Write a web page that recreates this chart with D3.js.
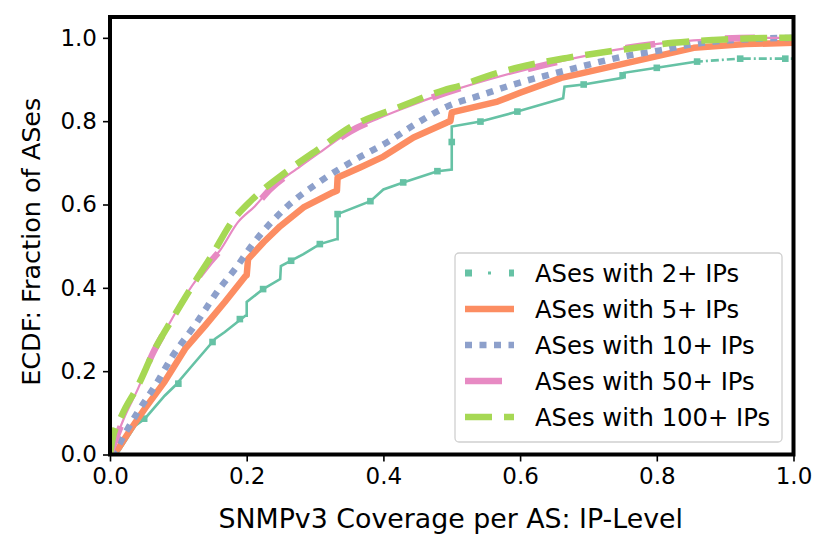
<!DOCTYPE html>
<html><head><meta charset="utf-8">
<script src="https://cdn.jsdelivr.net/npm/d3@7"></script>
<style>
body{margin:0;background:#fff}
svg{display:block}
text{font-family:"DejaVu Sans",sans-serif;fill:#000}
</style>
</head><body>
<svg id="chart" width="831" height="548"></svg>
<script>
// ---- data ----
const seriesLabels = ["ASes with 2+ IPs","ASes with 5+ IPs","ASes with 10+ IPs","ASes with 50+ IPs","ASes with 100+ IPs"];
const seriesColors = ["#66c2a5","#fc8d62","#8da0cb","#e78ac3","#a6d854"];
const xTicks = [0,0.2,0.4,0.6,0.8,1.0];
const yTicks = [0,0.2,0.4,0.6,0.8,1.0];
const xLabel = "SNMPv3 Coverage per AS: IP-Level";
const yLabel = "ECDF: Fraction of ASes";

const ips2 = [[0,0],[0.01,0],[0.037,0.069],[0.051,0.086],[0.08,0.141],[0.095,0.165],[0.12,0.213],[0.154,0.278],[0.168,0.294],[0.198,0.333],[0.2,0.333],[0.2,0.366],[0.224,0.397],[0.249,0.421],[0.25,0.452],[0.283,0.481],[0.307,0.505],[0.332,0.517],[0.333,0.517],[0.333,0.577],[0.381,0.608],[0.4,0.636],[0.429,0.653],[0.479,0.68],[0.5,0.684],[0.5,0.787],[0.542,0.799],[0.596,0.823],[0.663,0.855],[0.665,0.883],[0.693,0.888],[0.75,0.904],[0.752,0.916],[0.8,0.928],[0.859,0.943],[0.922,0.95],[1.0,0.95]];
const ips2Markers = [[0.05,0.086],[0.1,0.17],[0.15,0.27],[0.19,0.325],[0.224,0.397],[0.265,0.465],[0.307,0.505],[0.333,0.577],[0.381,0.608],[0.429,0.653],[0.479,0.68],[0.5,0.75],[0.542,0.799],[0.596,0.823],[0.693,0.888],[0.75,0.91],[0.8,0.928],[0.859,0.943],[0.922,0.95],[0.988,0.95]];
const ips5 = [[0,0],[0.012,0.014],[0.03,0.06],[0.051,0.11],[0.08,0.175],[0.11,0.254],[0.139,0.309],[0.168,0.366],[0.198,0.428],[0.2,0.43],[0.202,0.469],[0.225,0.51],[0.249,0.548],[0.283,0.593],[0.326,0.629],[0.332,0.633],[0.333,0.665],[0.366,0.689],[0.4,0.715],[0.444,0.761],[0.493,0.797],[0.498,0.8],[0.5,0.821],[0.567,0.847],[0.6,0.868],[0.66,0.904],[0.688,0.914],[0.757,0.94],[0.854,0.976],[0.93,0.985],[1.0,0.988]];
const ips10 = [[0,0],[0.008,0.01],[0.02,0.045],[0.041,0.103],[0.066,0.165],[0.091,0.235],[0.124,0.31],[0.161,0.4],[0.183,0.445],[0.209,0.505],[0.259,0.595],[0.307,0.655],[0.356,0.705],[0.405,0.749],[0.444,0.79],[0.493,0.835],[0.542,0.862],[0.59,0.888],[0.663,0.92],[0.757,0.957],[0.805,0.97],[0.854,0.985],[0.95,0.998],[1.0,1.0]];
const ips50 = [[0,0],[0.007,0.031],[0.022,0.093],[0.041,0.158],[0.061,0.237],[0.085,0.309],[0.114,0.39],[0.143,0.455],[0.161,0.49],[0.187,0.557],[0.212,0.596],[0.234,0.636],[0.278,0.691],[0.307,0.725],[0.351,0.775],[0.395,0.808],[0.425,0.828],[0.493,0.869],[0.59,0.916],[0.649,0.94],[0.757,0.976],[0.854,0.994],[0.95,1.0],[1.0,1.0]];
const ips100 = [[0,0],[0.003,0.031],[0.017,0.093],[0.041,0.165],[0.066,0.254],[0.091,0.325],[0.124,0.414],[0.149,0.478],[0.179,0.56],[0.208,0.612],[0.259,0.68],[0.307,0.735],[0.351,0.785],[0.425,0.835],[0.488,0.874],[0.512,0.885],[0.559,0.912],[0.608,0.933],[0.669,0.952],[0.769,0.976],[0.824,0.988],[0.883,0.995],[0.985,1.0],[1.0,1.0]];

// ---- layout ----
const svg = d3.select("#chart");
const L = 110, R = 793.5, T = 17, B = 454.5;
const x = d3.scaleLinear().domain([0,1]).range([L,R]);
const y = d3.scaleLinear().domain([0,1.05]).range([B,T]);
const line = d3.line().x(d=>x(d[0])).y(d=>y(d[1]));
const smooth = d3.line().x(d=>x(d[0])).y(d=>y(d[1])).curve(d3.curveMonotoneX);

const defs = svg.append("defs");
defs.append("clipPath").attr("id","plot").append("rect").attr("x",L).attr("y",T).attr("width",R-L).attr("height",B-T);
defs.append("clipPath").attr("id","head").append("rect").attr("x",L).attr("y",T).attr("width",x(0.86)-L).attr("height",B-T);
defs.append("clipPath").attr("id","tail").append("rect").attr("x",x(0.86)).attr("y",T).attr("width",R-x(0.86)).attr("height",B-T);

const g = svg.append("g").attr("clip-path","url(#plot)");

// 2+ IPs
g.append("path").datum(ips2).attr("d",line).attr("clip-path","url(#head)")
  .attr("fill","none").attr("stroke",seriesColors[0]).attr("stroke-width",2.6);
g.append("path").datum(ips2).attr("d",line).attr("clip-path","url(#tail)")
  .attr("fill","none").attr("stroke",seriesColors[0]).attr("stroke-width",2.6).attr("stroke-dasharray","8,3,2,3");
g.selectAll("rect.m2").data(ips2Markers).join("rect").attr("class","m2")
  .attr("x",d=>x(d[0])-3.3).attr("y",d=>y(d[1])-3.3).attr("width",6.6).attr("height",6.6)
  .attr("fill",seriesColors[0]);
// 5+
g.append("path").datum(ips5).attr("d",line).attr("fill","none")
  .attr("stroke",seriesColors[1]).attr("stroke-width",6.5).attr("stroke-linejoin","round");
// 10+
g.append("path").datum(ips10).attr("d",smooth).attr("fill","none")
  .attr("stroke",seriesColors[2]).attr("stroke-width",6.5).attr("stroke-dasharray","7,7.5");
// 50+
g.append("path").datum(ips50).attr("d",smooth).attr("fill","none")
  .attr("stroke",seriesColors[3]).attr("stroke-width",2.2);
g.append("path").datum(ips50).attr("d",smooth).attr("fill","none")
  .attr("stroke",seriesColors[3]).attr("stroke-width",6.5).attr("stroke-dasharray","30,70");
// 100+
g.append("path").datum(ips100).attr("d",smooth).attr("fill","none")
  .attr("stroke",seriesColors[4]).attr("stroke-width",6.5).attr("stroke-dasharray","27,12");

// ---- axes ----
const xa = svg.append("g").attr("transform",`translate(0,${B})`)
  .call(d3.axisBottom(x).tickValues(xTicks).tickFormat(d3.format(".1f")).tickSize(7).tickPadding(6));
const ya = svg.append("g").attr("transform",`translate(${L},0)`)
  .call(d3.axisLeft(y).tickValues(yTicks).tickFormat(d3.format(".1f")).tickSize(7).tickPadding(6));
[xa,ya].forEach(a=>{
  a.select(".domain").remove();
  a.selectAll(".tick line").attr("stroke","#000").attr("stroke-width",1.6);
  a.selectAll(".tick text").style("font-size","23px").attr("fill","#000");
});

svg.append("rect").attr("x",L).attr("y",T).attr("width",R-L).attr("height",B-T)
  .attr("fill","none").attr("stroke","#000").attr("stroke-width",4);

svg.append("text").attr("x",(L+R)/2 - 1).attr("y",528).attr("text-anchor","middle")
  .style("font-size","26.8px").text(xLabel);
svg.append("text").attr("transform",`translate(40,${(T+B)/2 + 6}) rotate(-90)`).attr("text-anchor","middle")
  .style("font-size","25.5px").text(yLabel);

// ---- legend ----
const lg = svg.append("g");
lg.append("rect").attr("x",455).attr("y",253).attr("width",327).attr("height",189).attr("rx",4)
  .attr("fill","#fff").attr("fill-opacity",0.85).attr("stroke","#d0d0d0").attr("stroke-width",1.3);
const rowY = i => 273 + i*36;
const hx0 = 465, hx1 = 514;
// 2+
lg.append("rect").attr("x",hx0).attr("y",rowY(0)-3.5).attr("width",7).attr("height",7).attr("fill",seriesColors[0]);
lg.append("rect").attr("x",hx0+23).attr("y",rowY(0)-1.5).attr("width",3).attr("height",3).attr("fill",seriesColors[0]);
lg.append("rect").attr("x",hx1-5).attr("y",rowY(0)-3.5).attr("width",5).attr("height",7).attr("fill",seriesColors[0]);
// others
const styles = [null,"none","7,7.5","37,40","27,12"];
for(let i=1;i<5;i++){
  lg.append("line").attr("x1",hx0).attr("x2",hx1).attr("y1",rowY(i)).attr("y2",rowY(i))
    .attr("stroke",seriesColors[i]).attr("stroke-width",6.5)
    .attr("stroke-dasharray",styles[i]==="none"?null:styles[i]);
}
seriesLabels.forEach((s,i)=>{
  lg.append("text").attr("x",535).attr("y",rowY(i)+8.5).style("font-size","24.3px").text(s);
});
</script>
</body></html>
